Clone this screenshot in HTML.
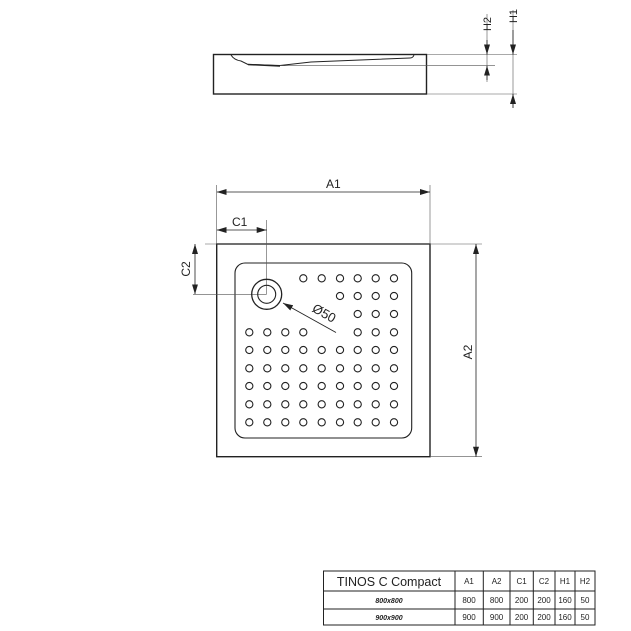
<!DOCTYPE html>
<html><head><meta charset="utf-8"><style>
html,body{margin:0;padding:0;background:#fff;}
svg{display:block;}
text{font-family:"Liberation Sans",sans-serif;fill:#222;}
</style></head><body>
<svg width="631" height="631" viewBox="0 0 631 631" xmlns="http://www.w3.org/2000/svg">
<defs>
<marker id="ar" viewBox="0 0 10 6" refX="10" refY="3" markerWidth="10" markerHeight="6" orient="auto-start-reverse" markerUnits="userSpaceOnUse">
<path d="M0,0 L10,3 L0,6 z" fill="#222"/></marker>
<g id="c"><circle cx="0" cy="0" r="3.6" fill="none" stroke="#222" stroke-width="1.1"/></g>
<g id="row9">
<use href="#c" x="249.3"/><use href="#c" x="267.3"/><use href="#c" x="285.3"/><use href="#c" x="303.3"/><use href="#c" x="321.7"/><use href="#c" x="340"/><use href="#c" x="357.7"/><use href="#c" x="375.7"/><use href="#c" x="394"/>
</g>
</defs>
<g stroke="#222" fill="none">
<!-- side view -->
<rect x="213.5" y="54.5" width="213" height="39.5" stroke-width="1.4"/>
<path d="M231,55 Q234,60 241,61 L248,64.5 L280,65.5 L311,62 L410,58 Q413,58 414,55" stroke-width="1"/>
<path d="M248,64.5 L280,66" stroke-width="1.5"/>
<g stroke-width="0.6" stroke="#555">
<line x1="427" y1="54.5" x2="517" y2="54.5"/>
<line x1="280" y1="65.7" x2="495" y2="65.7"/>
<line x1="427" y1="94" x2="517" y2="94"/>
<line x1="487" y1="14" x2="487" y2="82"/>
<line x1="513" y1="10" x2="513" y2="108"/>
</g>
<line x1="487" y1="40" x2="487" y2="54.5" stroke-width="0.8" marker-end="url(#ar)"/>
<line x1="487" y1="80" x2="487" y2="65.7" stroke-width="0.8" marker-end="url(#ar)"/>
<line x1="513" y1="30" x2="513" y2="54.5" stroke-width="0.8" marker-end="url(#ar)"/>
<line x1="513" y1="108" x2="513" y2="94" stroke-width="0.8" marker-end="url(#ar)"/>

<!-- plan -->
<rect x="216.7" y="244" width="213.3" height="212.7" stroke-width="1.4"/>
<rect x="235" y="263" width="176.7" height="175" rx="10" stroke-width="1.1"/>
<g stroke-width="0.6" stroke="#555">
<line x1="216.7" y1="185" x2="216.7" y2="244"/>
<line x1="430" y1="185" x2="430" y2="244"/>
<line x1="205" y1="244" x2="482" y2="244"/>
<line x1="430" y1="456.7" x2="482" y2="456.7"/>
<line x1="266.7" y1="220" x2="266.7" y2="294"/>
<line x1="193" y1="294.3" x2="266.7" y2="294.3"/>
</g>
<line x1="216.7" y1="192" x2="430" y2="192" stroke-width="0.8" marker-start="url(#ar)" marker-end="url(#ar)"/>
<line x1="216.7" y1="230" x2="266.7" y2="230" stroke-width="0.8" marker-start="url(#ar)" marker-end="url(#ar)"/>
<line x1="195" y1="244" x2="195" y2="294.3" stroke-width="0.8" marker-start="url(#ar)" marker-end="url(#ar)"/>
<line x1="476" y1="244" x2="476" y2="456.7" stroke-width="0.8" marker-start="url(#ar)" marker-end="url(#ar)"/>
<circle cx="266.7" cy="294.3" r="15" stroke-width="1.3"/>
<circle cx="266.7" cy="294.3" r="9" stroke-width="1.1"/>
<line x1="336" y1="332.5" x2="283" y2="303" stroke-width="0.9" marker-end="url(#ar)"/>

<!-- table -->
<g stroke-width="1">
<rect x="323.5" y="571" width="271.5" height="54"/>
<line x1="323.5" y1="591" x2="595" y2="591"/>
<line x1="323.5" y1="609" x2="595" y2="609"/>
<line x1="455" y1="571" x2="455" y2="625"/>
<line x1="483.3" y1="571" x2="483.3" y2="625"/>
<line x1="510" y1="571" x2="510" y2="625"/>
<line x1="533.3" y1="571" x2="533.3" y2="625"/>
<line x1="555" y1="571" x2="555" y2="625"/>
<line x1="575" y1="571" x2="575" y2="625"/>
</g>
</g>
<!-- dots -->
<g>
<use href="#c" x="303.3" y="278.3"/><use href="#c" x="321.7" y="278.3"/><use href="#c" x="340" y="278.3"/><use href="#c" x="357.7" y="278.3"/><use href="#c" x="375.7" y="278.3"/><use href="#c" x="394" y="278.3"/>
<use href="#c" x="340" y="296"/><use href="#c" x="357.7" y="296"/><use href="#c" x="375.7" y="296"/><use href="#c" x="394" y="296"/>
<use href="#c" x="357.7" y="314"/><use href="#c" x="375.7" y="314"/><use href="#c" x="394" y="314"/>
<use href="#c" x="249.3" y="332.3"/><use href="#c" x="267.3" y="332.3"/><use href="#c" x="285.3" y="332.3"/><use href="#c" x="303.3" y="332.3"/><use href="#c" x="357.7" y="332.3"/><use href="#c" x="375.7" y="332.3"/><use href="#c" x="394" y="332.3"/>
<use href="#row9" y="350"/><use href="#row9" y="368.3"/><use href="#row9" y="386"/><use href="#row9" y="404.3"/><use href="#row9" y="422.3"/>
</g>
<text x="487" y="24" font-size="11" text-anchor="middle" transform="rotate(-90 487 24)" dy="4">H2</text>
<text x="513" y="16" font-size="11" text-anchor="middle" transform="rotate(-90 513 16)" dy="4">H1</text>
<text x="326" y="188" font-size="12">A1</text>
<text x="232" y="226" font-size="12">C1</text>
<text x="186" y="269" font-size="12" text-anchor="middle" transform="rotate(-90 186 269)" dy="4">C2</text>
<text x="468" y="352" font-size="12" text-anchor="middle" transform="rotate(-90 468 352)" dy="4">A2</text>
<text x="322" y="317" font-size="13" text-anchor="middle" transform="rotate(29 322 317)">Ø50</text>
<text x="389" y="586" font-size="12.5" text-anchor="middle">TINOS C Compact</text>
<g font-size="8" text-anchor="middle">
<text x="469" y="584">A1</text><text x="496.6" y="584">A2</text><text x="521.6" y="584">C1</text><text x="544" y="584">C2</text><text x="565" y="584">H1</text><text x="585" y="584">H2</text>
<text x="469" y="603">800</text><text x="496.6" y="603">800</text><text x="521.6" y="603">200</text><text x="544" y="603">200</text><text x="565" y="603">160</text><text x="585" y="603">50</text>
<text x="469" y="620">900</text><text x="496.6" y="620">900</text><text x="521.6" y="620">200</text><text x="544" y="620">200</text><text x="565" y="620">160</text><text x="585" y="620">50</text>
<text x="389" y="603" font-weight="bold" font-style="italic" font-size="7">800x800</text>
<text x="389" y="620" font-weight="bold" font-style="italic" font-size="7">900x900</text>
</g>
</svg>
</body></html>
